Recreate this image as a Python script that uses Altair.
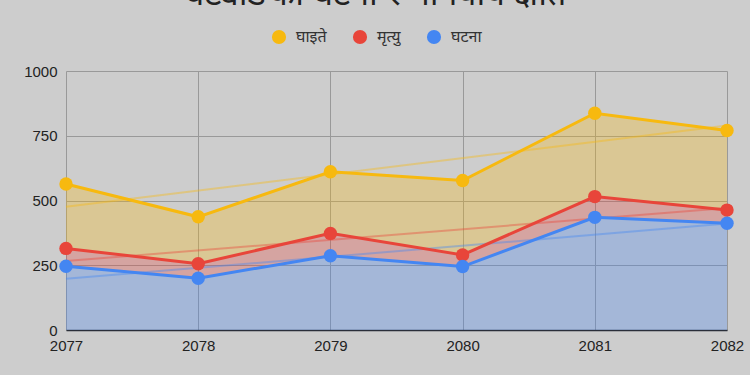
import altair as alt
import pandas as pd

years = [2077, 2078, 2079, 2080, 2081, 2082]
injured = [564, 437, 611, 577, 837, 770]
deaths = [315, 256, 373, 290, 515, 463]
incidents = [246, 200, 287, 245, 435, 412]
series_names = ["घाइते", "मृत्यु", "घटना"]
line_colors = ["#f7b90f", "#e8453a", "#4486f2"]
y_ticks = [0, 250, 500, 750, 1000]
title_text = "चट्याङका घटना र मानवीय क्षति"

wide = pd.DataFrame({"year": years, "injured": injured, "deaths": deaths, "incidents": incidents})
long = pd.DataFrame({
    "year": years * 3,
    "value": injured + deaths + incidents,
    "series": [n for n in series_names for _ in years],
})

xax = alt.Axis(values=years, format="d", title=None, grid=True, gridColor="#999999",
               domainColor="#2a2f3a", domainWidth=1.5, ticks=False, labelFontSize=15,
               labelColor="#222222", labelPadding=8, labelFont="Liberation Sans",
               labelFlush=False, labelBound=False, labelOverlap=False)
yax = alt.Axis(values=y_ticks, format="d", title=None, grid=True, gridColor="#999999", domain=False,
               ticks=False, labelFontSize=15, labelColor="#222222", labelPadding=9,
               labelFont="Liberation Sans")
xs = alt.Scale(domain=[2077, 2082], nice=False, zero=False)
ys = alt.Scale(domain=[0, 1000], nice=False)

color = alt.Color("series:N", scale=alt.Scale(domain=series_names, range=line_colors),
                  legend=alt.Legend(title=None, orient="none", direction="horizontal",
                                    legendX=205, legendY=-42, symbolType="circle",
                                    symbolSize=200, symbolOpacity=1, labelFontSize=16,
                                    labelColor="#333333", labelFont="Noto Sans",
                                    columnPadding=25, symbolStrokeWidth=0, labelOffset=9))

bw = alt.Chart(wide)
a_y = bw.mark_area(color=line_colors[0], opacity=0.3).encode(
    x=alt.X("year:Q", scale=xs, axis=xax), y=alt.Y("injured:Q", scale=ys, axis=yax), y2="deaths:Q")
a_r = bw.mark_area(color=line_colors[1], opacity=0.3).encode(
    x=alt.X("year:Q", scale=xs), y=alt.Y("deaths:Q", scale=ys), y2="incidents:Q")
a_b = bw.mark_area(color=line_colors[2], opacity=0.3).encode(
    x=alt.X("year:Q", scale=xs), y=alt.Y("incidents:Q", scale=ys))

bl = alt.Chart(long)
trend = bl.transform_regression("year", "value", groupby=["series"]).mark_line(
    strokeWidth=2, opacity=0.4).encode(
    x=alt.X("year:Q", scale=xs), y=alt.Y("value:Q", scale=ys), color=color)
lines = bl.mark_line(strokeWidth=3).encode(
    x=alt.X("year:Q", scale=xs), y=alt.Y("value:Q", scale=ys), color=color)
pts = bl.mark_circle(size=180, opacity=1).encode(
    x=alt.X("year:Q", scale=xs), y=alt.Y("value:Q", scale=ys), color=color)

chart = alt.layer(a_y, a_r, a_b, trend, lines, pts).properties(
    width=661, height=259,
    title=alt.TitleParams(title_text, fontSize=34, font="Noto Sans", color="#222222",
                          fontWeight="normal", anchor="middle", frame="group",
                          offset=0, dy=10, dx=-22, baseline="alphabetic"),
    autosize=alt.AutoSizeParams(type="none"),
    padding={"left": 66, "top": 71, "right": 23, "bottom": 45},
).configure(background="#cdcdcd").configure_view(stroke=None)

chart.save("out.html", embed_options={"renderer": "svg", "actions": False})
